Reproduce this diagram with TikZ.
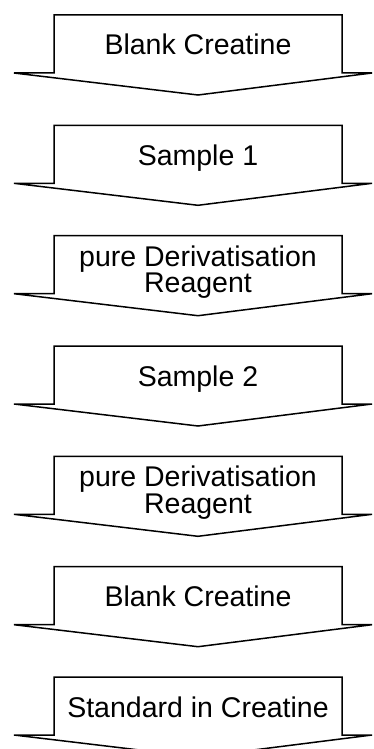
\documentclass[tikz,border=0pt]{standalone}
\usepackage{fontspec}
\setmainfont{Liberation Sans}
\begin{document}
\begin{tikzpicture}[x=1pt,y=-1pt,
  stepshape/.style={draw=black, line width=1.5pt, line join=miter, fill=white},
  lbl/.style={font=\fontsize{28.5}{25}\selectfont, align=center, anchor=base, inner sep=0pt}]
\useasboundingbox (0,0) rectangle (373,749);
\clip (0,0) rectangle (373,749);
\foreach \T in {15,125.3,235.7,346,456.3,566.7,677} {
  \draw[stepshape] (54,\T) -- (342,\T) -- (342,\T+58) -- (372,\T+58)
    -- (198,\T+80) -- (14,\T+58) -- (54,\T+58) -- cycle;
}
\node[lbl] (t1) at (198,55) {Blank Creatine};
\node[lbl] (t2) at (198,165.3) {Sample 1};
\node[lbl] (t3) at (198,292.7) {pure Derivatisation\\Reagent};
\node[lbl] (t4) at (198,386) {Sample 2};
\node[lbl] (t5) at (198,513.3) {pure Derivatisation\\Reagent};
\node[lbl] (t6) at (198,606.7) {Blank Creatine};
\node[lbl] (t7) at (198,717) {Standard in Creatine};
\end{tikzpicture}
\end{document}
